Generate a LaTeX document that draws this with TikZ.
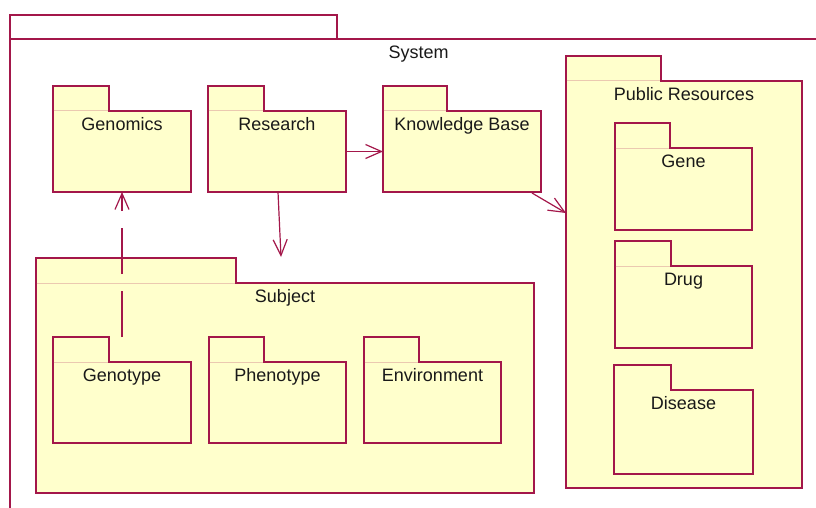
\documentclass[tikz,border=0pt]{standalone}
\usepackage{fontspec}
\setmainfont{Liberation Sans}
\usetikzlibrary{arrows.meta,calc}
\definecolor{umlline}{HTML}{A3174A}
\definecolor{umlfill}{HTML}{FFFFCC}
\definecolor{umlsep}{HTML}{EBC9B0}
\tikzset{
  pkgline/.style={draw=umlline,line width=1.2pt,line join=miter},
  pkgbody/.style={rectangle,fill=umlfill,inner sep=0pt,outer sep=0pt},
  sepline/.style={draw=umlsep,line width=1pt},
  pkglabel/.style={inner sep=0pt,font=\fontsize{18}{21}\selectfont,text=black!90},
  dep/.style={draw=umlline,line width=1.2pt,-{Straight Barb[length=16pt,width=14pt,line width=1.2pt]}},
  depdash/.style={dep,dash pattern=on 46pt off 17pt}
}
% #1 separator style, #2 name, #3 x1, #4 body top, #5 x2, #6 y2, #7 tab right, #8 label
\newcommand{\umlpkg}[8][sepline]{%
  \fill[umlfill] (#3,#4-25) rectangle (#7,#4);
  \node[pkgbody,minimum width={(#5-#3)*1pt},minimum height={(#6-#4)*1pt}] (#2) at ({(#3+#5)/2},{(#4+#6)/2}) {};
  \draw[pkgline] (#3,#4-25) -- (#7,#4-25) -- (#7,#4) -- (#5,#4) -- (#5,#6) -- (#3,#6) -- cycle;
  \draw[#1] (#3+0.6,#4) -- (#7-0.6,#4);
  \node[pkglabel,anchor=base] (#2lbl) at ({(#3+#5)/2},#4+19.5) {#8};
}
\begin{document}
\begin{tikzpicture}[x=1pt,y=-1pt]
\useasboundingbox (0,0) rectangle (816,508);
% System frame (extends beyond the picture)
\draw[pkgline] (10,39) -- (10,15) -- (337,15) -- (337,39);
\draw[pkgline] (816,39) -- (10,39) -- (10,508);
\node[pkglabel,anchor=base] (systemlbl) at (418.5,59) {System};
% outer packages
\umlpkg{subject}{36}{283}{534}{493}{236}{Subject}
\umlpkg{pub}{566}{81}{802}{488}{661}{Public Resources}
% top row
\umlpkg{genomics}{53}{111}{191}{192}{109}{Genomics}
\umlpkg{research}{208}{111}{346}{192}{264}{Research}
\umlpkg{kb}{383}{111}{541}{192}{447}{Knowledge Base}
% subject contents
\umlpkg{genotype}{53}{362}{191}{443}{109}{Genotype}
\umlpkg{phenotype}{209}{362}{346}{443}{264}{Phenotype}
\umlpkg{environment}{364}{362}{501}{443}{419}{Environment}
% public resources contents
\umlpkg{gene}{615}{148}{752}{230}{670}{Gene}
\umlpkg{drug}{615}{266}{752}{348}{671}{Drug}
\umlpkg[draw=none]{disease}{614}{390}{753}{474}{671}{Disease}
% connectors
\coordinate (subjtop) at ($(subject.north west)+(245,-26)$);
\coordinate (kbout) at ($(kb.south east)+(-9,1)$);
\coordinate (pubin) at ($(pub.north west)+(0,132)$);
\coordinate (genotop) at ($(genotype.north)+(0,-25)$);
\draw[dep] (research.east) -- (kb.west);
\draw[dep] ($(research.south)+(1,0)$) -- (subjtop);
\draw[dep] (kbout) -- (pubin);
\draw[depdash] (genotop) -- (genomics.south);
\end{tikzpicture}
\end{document}
